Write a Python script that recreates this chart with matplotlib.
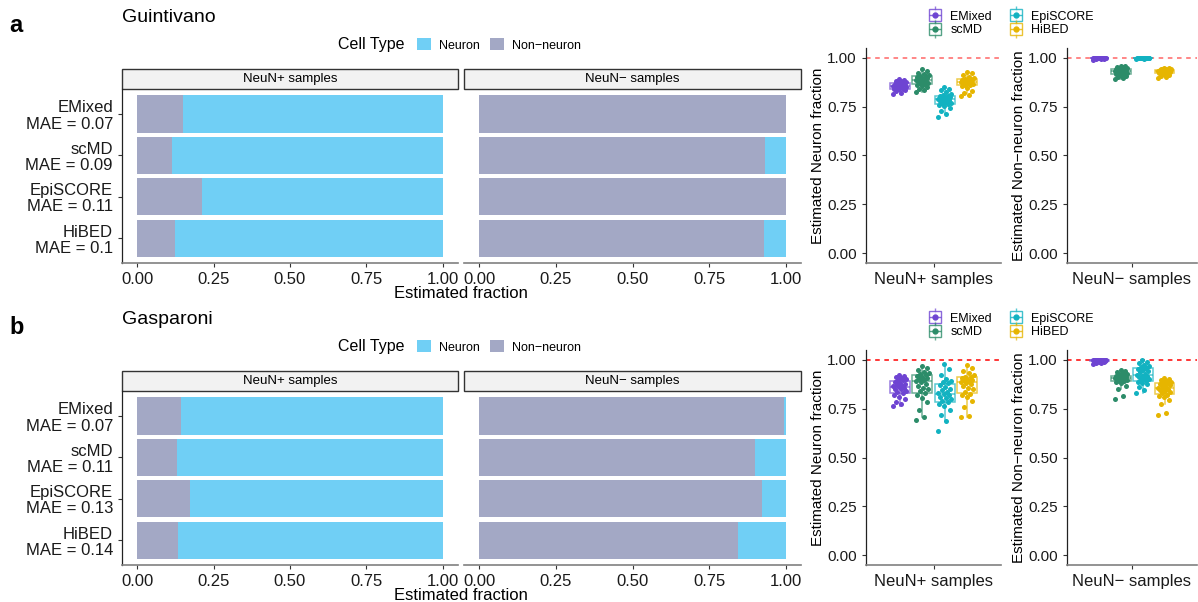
import numpy as np
import matplotlib
matplotlib.use("Agg")
import matplotlib.pyplot as plt
from matplotlib.patches import Patch, Rectangle
from matplotlib.lines import Line2D

plt.rcParams['font.family'] = ['Liberation Sans', 'DejaVu Sans']

# ---- data ----
methods = ['EMixed', 'scMD', 'EpiSCORE', 'HiBED']
method_colors = ['#6E44D2', '#2C8C69', '#12B2C1', '#E6B500']
cell_types = ['Neuron', 'Non\u2212neuron']
cell_colors = ['#70CFF5', '#A3A8C5']

mae_guint = ['0.07', '0.09', '0.11', '0.1']
mae_gasp = ['0.07', '0.11', '0.13', '0.14']

# mean non-neuron fraction per method (neuron = 1 - value)
guint_pos_nonneuron = [0.149, 0.113, 0.213, 0.125]
guint_neg_nonneuron = [1.0, 0.932, 1.0, 0.928]
gasp_pos_nonneuron = [0.144, 0.130, 0.171, 0.133]
gasp_neg_nonneuron = [0.993, 0.899, 0.922, 0.844]

# per-sample estimates (neuron fraction in NeuN+, non-neuron fraction in NeuN-)
guint_pos = {
    'EMixed': [0.815, 0.822, 0.828, 0.833, 0.838, 0.840, 0.842, 0.845, 0.848, 0.850, 0.852, 0.854, 0.855,
               0.857, 0.859, 0.861, 0.863, 0.866, 0.868, 0.870, 0.872, 0.875, 0.879, 0.883, 0.887, 0.890],
    'scMD': [0.826, 0.834, 0.842, 0.850, 0.857, 0.862, 0.866, 0.869, 0.873, 0.876, 0.879, 0.882, 0.885,
             0.887, 0.889, 0.892, 0.895, 0.898, 0.902, 0.905, 0.908, 0.912, 0.918, 0.924, 0.931, 0.940],
    'EpiSCORE': [0.695, 0.712, 0.728, 0.742, 0.752, 0.758, 0.763, 0.767, 0.771, 0.775, 0.779, 0.783, 0.786,
                 0.788, 0.791, 0.794, 0.797, 0.800, 0.803, 0.806, 0.810, 0.816, 0.824, 0.833, 0.842, 0.852],
    'HiBED': [0.806, 0.812, 0.820, 0.830, 0.845, 0.855, 0.860, 0.863, 0.866, 0.869, 0.871, 0.873, 0.875,
              0.877, 0.879, 0.881, 0.884, 0.886, 0.888, 0.890, 0.893, 0.898, 0.904, 0.911, 0.920, 0.928],
}
guint_neg = {
    'EMixed': [0.990, 0.993, 0.995, 0.996, 0.997, 0.997, 0.998, 0.998, 0.998, 0.999, 0.999,
               0.999, 0.999, 1.0, 1.0, 1.0, 1.0, 1.0, 1.0, 1.0, 1.0, 1.0],
    'scMD': [0.891, 0.898, 0.904, 0.909, 0.913, 0.916, 0.918, 0.921, 0.924, 0.926, 0.928, 0.930, 0.932,
             0.933, 0.935, 0.937, 0.939, 0.941, 0.943, 0.945, 0.947, 0.949, 0.951, 0.953, 0.956, 0.959],
    'EpiSCORE': [0.995, 0.996, 0.997, 0.998, 0.998, 0.999, 0.999, 0.999, 0.999, 1.0, 1.0,
                 1.0, 1.0, 1.0, 1.0, 1.0, 1.0, 1.0, 1.0, 1.0, 1.0, 1.0],
    'HiBED': [0.895, 0.902, 0.908, 0.913, 0.918, 0.921, 0.923, 0.925, 0.926, 0.927, 0.929, 0.930, 0.931,
              0.932, 0.933, 0.934, 0.935, 0.936, 0.937, 0.938, 0.940, 0.941, 0.943, 0.945, 0.947, 0.949],
}
gasp_pos = {
    'EMixed': [0.762, 0.772, 0.785, 0.798, 0.810, 0.822, 0.830, 0.836, 0.842, 0.848, 0.853, 0.857, 0.860,
               0.864, 0.868, 0.872, 0.877, 0.882, 0.888, 0.894, 0.898, 0.902, 0.906, 0.910, 0.915, 0.920],
    'scMD': [0.694, 0.708, 0.745, 0.782, 0.805, 0.818, 0.830, 0.838, 0.848, 0.858, 0.868, 0.878, 0.886,
             0.892, 0.897, 0.902, 0.908, 0.913, 0.918, 0.922, 0.926, 0.932, 0.940, 0.948, 0.956, 0.968],
    'EpiSCORE': [0.634, 0.685, 0.715, 0.742, 0.762, 0.775, 0.784, 0.790, 0.797, 0.805, 0.812, 0.818, 0.823,
                 0.828, 0.835, 0.843, 0.852, 0.862, 0.872, 0.880, 0.885, 0.892, 0.900, 0.920, 0.955, 0.976],
    'HiBED': [0.708, 0.712, 0.760, 0.790, 0.808, 0.818, 0.826, 0.836, 0.848, 0.858, 0.868, 0.876, 0.882,
              0.887, 0.891, 0.895, 0.899, 0.903, 0.907, 0.911, 0.914, 0.920, 0.932, 0.945, 0.960, 0.973],
}
gasp_neg = {
    'EMixed': [0.976, 0.982, 0.986, 0.989, 0.991, 0.993, 0.994, 0.995, 0.996, 0.996, 0.997,
               0.997, 0.998, 0.998, 0.998, 0.999, 0.999, 0.999, 1.0, 1.0, 1.0, 1.0],
    'scMD': [0.800, 0.815, 0.850, 0.868, 0.880, 0.886, 0.890, 0.893, 0.896, 0.898, 0.900, 0.902, 0.904,
             0.906, 0.908, 0.910, 0.912, 0.914, 0.917, 0.920, 0.923, 0.926, 0.930, 0.935, 0.942, 0.950],
    'EpiSCORE': [0.832, 0.845, 0.862, 0.875, 0.883, 0.887, 0.890, 0.895, 0.900, 0.905, 0.910, 0.915, 0.919,
                 0.922, 0.928, 0.935, 0.942, 0.948, 0.953, 0.958, 0.962, 0.968, 0.975, 0.982, 0.990, 0.998],
    'HiBED': [0.720, 0.728, 0.775, 0.795, 0.808, 0.816, 0.822, 0.828, 0.835, 0.840, 0.846, 0.850, 0.854,
              0.858, 0.862, 0.866, 0.870, 0.874, 0.878, 0.881, 0.884, 0.888, 0.892, 0.897, 0.903, 0.908],
}

frac_ticks = [0.0, 0.25, 0.5, 0.75, 1.0]

W, H = 1198, 602
fig = plt.figure(figsize=(W / 100, H / 100), dpi=100)
DARK = '#222222'
GREY = '#808080'


def px_axes(x0, y0, x1, y1):
    return fig.add_axes([x0 / W, 1 - y1 / H, (x1 - x0) / W, (y1 - y0) / H])


def style_axis(ax, left=True):
    for s in ['top', 'right']:
        ax.spines[s].set_visible(False)
    ax.spines['bottom'].set_color(GREY)
    ax.spines['bottom'].set_linewidth(1.2)
    ax.spines['left'].set_color(DARK)
    ax.spines['left'].set_linewidth(0.9)
    ax.spines['left'].set_visible(left)
    ax.tick_params(colors='#333333', length=3, width=0.8, labelcolor='#1a1a1a')


def bar_panel(ax, nonneuron, title, labels=None):
    y = np.arange(len(methods))
    neuron = [1 - v for v in nonneuron]
    ax.barh(y, nonneuron, height=0.9, color=cell_colors[1], lw=0)
    ax.barh(y, neuron, left=nonneuron, height=0.9, color=cell_colors[0], lw=0)
    ax.set_xlim(-0.05, 1.05)
    ax.set_ylim(len(methods) - 0.4, -0.6)
    ax.set_xticks(frac_ticks)
    ax.set_xticklabels(['%.2f' % t for t in frac_ticks], fontsize=12)
    style_axis(ax, left=labels is not None)
    if labels is not None:
        ax.set_yticks(y)
        ax.set_yticklabels(labels, fontsize=12, linespacing=1.1)
    else:
        ax.set_yticks([])
    # facet strip
    ax.add_patch(Rectangle((0, 1.0), 1, 20 / 174, transform=ax.transAxes, clip_on=False,
                           facecolor='#F2F2F2', edgecolor='#333333', lw=1.0))
    ax.text(0.5, 1.0 + 10 / 174, title, transform=ax.transAxes, ha='center', va='center', fontsize=9.5)


def jitter(n, half=0.06):
    # deterministic spread using the golden-ratio sequence
    return np.array([((i * 0.618034) % 1.0 - 0.5) * 2 * half for i in range(n)])


def box_panel(ax, data, xlabel, ylabel, line_alpha):
    pos = [0.7, 0.9, 1.1, 1.3]
    for m, c, p in zip(methods, method_colors, pos):
        vals = np.array(data[m])
        ax.boxplot([vals], positions=[p], widths=0.18, showfliers=False, patch_artist=True,
                   boxprops=dict(facecolor='white', edgecolor=c, lw=1.1, alpha=0.7),
                   medianprops=dict(color=c, lw=1.1, alpha=0.7),
                   whiskerprops=dict(color=c, lw=1.1, alpha=0.7),
                   capprops=dict(lw=0), manage_ticks=False)
        ax.scatter(p + jitter(len(vals)), vals, s=13, color=c, lw=0, zorder=3)
    ax.axhline(1.0, color='red', ls=(0, (3, 3)), lw=1.1, alpha=line_alpha, zorder=1)
    ax.set_xlim(0.4, 1.6)
    ax.set_ylim(-0.05, 1.05)
    ax.set_yticks(frac_ticks)
    ax.set_yticklabels(['%.2f' % t for t in frac_ticks], fontsize=11)
    ax.set_xticks([1.0])
    ax.set_xticklabels([xlabel], fontsize=12)
    ax.set_ylabel(ylabel, fontsize=11, labelpad=2)
    style_axis(ax)


def method_legend(yc):
    handles = []
    for c in method_colors:
        handles.append((Line2D([], [], color=c, marker='|', ms=13, lw=0, alpha=0.7),
                        Line2D([], [], color=c, marker='s', ms=9, mfc='white', lw=0, alpha=0.8),
                        Line2D([], [], color=c, marker='_', ms=9, lw=0, alpha=0.8),
                        Line2D([], [], color=c, marker='o', ms=3.5, lw=0)))
    fig.legend(handles, methods, loc='center', bbox_to_anchor=(1011 / W, 1 - yc / H), ncol=2,
               frameon=False, fontsize=9, handlelength=1.0, handletextpad=0.7, labelspacing=0.15,
               columnspacing=1.4, borderpad=0)


def celltype_legend(yc):
    fig.text(338 / W, 1 - yc / H, 'Cell Type', fontsize=11.5, va='center', ha='left')
    handles = [Patch(facecolor=cell_colors[0]), Patch(facecolor=cell_colors[1])]
    fig.legend(handles, cell_types, loc='center left', bbox_to_anchor=(417 / W, 1 - yc / H), ncol=2,
               frameon=False, fontsize=9, handlelength=1.1, handleheight=1.1, handletextpad=0.7,
               columnspacing=0.75, borderpad=0, borderaxespad=0)


rows = [
    dict(off=0, tag='a', name='Guintivano', mae=mae_guint, pos_bar=guint_pos_nonneuron,
         neg_bar=guint_neg_nonneuron, pos=guint_pos, neg=guint_neg, alpha=0.6),
    dict(off=302, tag='b', name='Gasparoni', mae=mae_gasp, pos_bar=gasp_pos_nonneuron,
         neg_bar=gasp_neg_nonneuron, pos=gasp_pos, neg=gasp_neg, alpha=1.0),
]

for r in rows:
    o = r['off']
    fig.text(9 / W, 1 - (26 + o) / H, r['tag'], fontsize=17, fontweight='bold', va='center')
    fig.text(122 / W, 1 - (18 + o) / H, r['name'], fontsize=14, va='center')
    celltype_legend(45 + o)

    labels = ['%s\nMAE = %s' % (m, e) for m, e in zip(methods, r['mae'])]
    ax1 = px_axes(122, 89 + o, 458, 263 + o)
    bar_panel(ax1, r['pos_bar'], 'NeuN+ samples', labels)
    ax2 = px_axes(464, 89 + o, 801, 263 + o)
    bar_panel(ax2, r['neg_bar'], 'NeuN\u2212 samples')
    fig.text(461 / W, 1 - (293 + o) / H, 'Estimated fraction', fontsize=12, ha='center', va='center')

    method_legend(23.5 + o)
    ax3 = px_axes(866, 48 + o, 1001, 263 + o)
    box_panel(ax3, r['pos'], 'NeuN+ samples', 'Estimated Neuron fraction', r['alpha'])
    ax4 = px_axes(1067, 48 + o, 1197, 263 + o)
    box_panel(ax4, r['neg'], 'NeuN\u2212 samples', 'Estimated Non\u2212neuron fraction', r['alpha'])

fig.savefig('out.png', dpi=100)
